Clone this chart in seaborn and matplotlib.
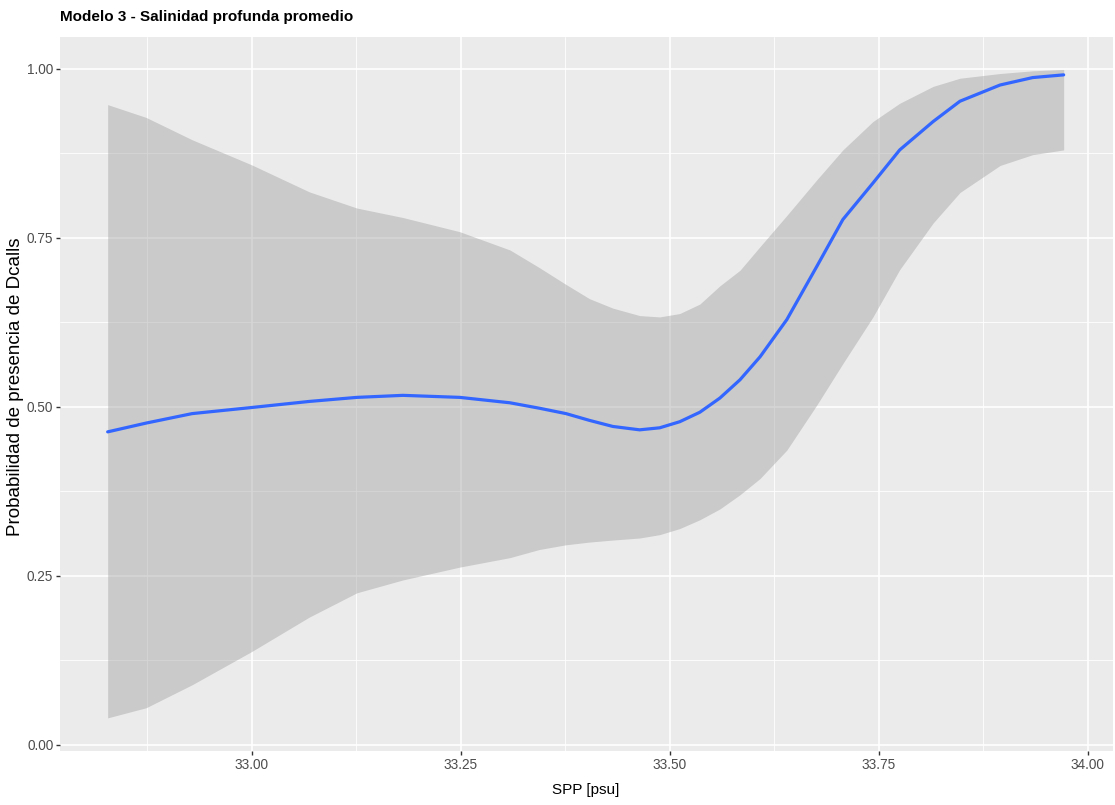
import matplotlib
matplotlib.use("Agg")
import matplotlib.pyplot as plt
import seaborn as sns
import pandas as pd
from matplotlib.ticker import FixedLocator

# Fitted curve (SPP vs probability) with its band
spp = [32.828, 32.874, 32.929, 33.000, 33.069, 33.126, 33.181, 33.249, 33.309, 33.344,
       33.376, 33.404, 33.432, 33.464, 33.488, 33.512, 33.536, 33.560, 33.584, 33.608,
       33.640, 33.676, 33.707, 33.743, 33.775, 33.815, 33.847, 33.895, 33.934, 33.971]
prob = [0.463, 0.476, 0.490, 0.499, 0.508, 0.514, 0.517, 0.514, 0.506, 0.498,
        0.490, 0.480, 0.471, 0.466, 0.469, 0.478, 0.492, 0.513, 0.540, 0.574,
        0.629, 0.708, 0.777, 0.831, 0.880, 0.922, 0.952, 0.976, 0.987, 0.991]
upper = [0.947, 0.928, 0.895, 0.858, 0.818, 0.794, 0.780, 0.759, 0.732, 0.706,
         0.681, 0.660, 0.646, 0.635, 0.633, 0.638, 0.652, 0.679, 0.702, 0.737,
         0.783, 0.836, 0.880, 0.922, 0.949, 0.974, 0.986, 0.993, 0.997, 0.999]
lower = [0.040, 0.055, 0.089, 0.138, 0.189, 0.225, 0.244, 0.263, 0.277, 0.289,
         0.296, 0.300, 0.303, 0.306, 0.311, 0.320, 0.333, 0.349, 0.370, 0.394,
         0.436, 0.503, 0.564, 0.633, 0.703, 0.772, 0.817, 0.857, 0.873, 0.880]

x_ticks = [33.00, 33.25, 33.50, 33.75, 34.00]
x_minor = [32.875, 33.125, 33.375, 33.625, 33.875]
y_ticks = [0.00, 0.25, 0.50, 0.75, 1.00]
y_minor = [0.125, 0.375, 0.625, 0.875]

df = pd.DataFrame({"spp": spp, "prob": prob, "upper": upper, "lower": lower})

sns.set_theme(style="darkgrid", rc={
    "axes.facecolor": "#EBEBEB",
    "grid.color": "white",
    "axes.edgecolor": "#EBEBEB",
})
plt.rcParams['font.family'] = ['Liberation Sans', 'DejaVu Sans']

fig = plt.figure(figsize=(11.15, 8.05), dpi=100)
ax = fig.add_axes([60 / 1115, 1 - 751 / 805, 1053 / 1115, 714 / 805])

ax.fill_between(df["spp"], df["lower"], df["upper"], color="#999999", alpha=0.4,
                linewidth=0, zorder=2)
sns.lineplot(data=df, x="spp", y="prob", ax=ax, color="#3366FF", linewidth=2.3,
             zorder=3)

ax.set_xlim(32.771, 34.030)
ax.set_ylim(-0.009, 1.047)

ax.xaxis.set_major_locator(FixedLocator(x_ticks))
ax.xaxis.set_minor_locator(FixedLocator(x_minor))
ax.yaxis.set_major_locator(FixedLocator(y_ticks))
ax.yaxis.set_minor_locator(FixedLocator(y_minor))
ax.set_xticklabels([f"{v:.2f}" for v in x_ticks])
ax.set_yticklabels([f"{v:.2f}" for v in y_ticks])

ax.grid(which="major", color="white", linewidth=1.2)
ax.grid(which="minor", color="white", linewidth=0.6)
ax.set_axisbelow(True)
for s in ax.spines.values():
    s.set_visible(False)

ax.tick_params(which="major", length=3, width=1, color="#333333",
               labelsize=9.8, labelcolor="#4D4D4D", pad=1.8,
               bottom=True, left=True)
ax.tick_params(which="minor", length=0)

ax.set_xlabel("")
ax.set_ylabel("")

fig.text(60 / 1115, 1 - 17 / 805, "Modelo 3 - Salinidad profunda promedio",
         ha="left", va="center", fontsize=11, fontweight="bold", color="black")
fig.text(586 / 1115, 1 - 790 / 805, "SPP [psu]", ha="center", va="center",
         fontsize=11, color="black")
fig.text(16 / 1115, 1 - 387 / 805, "Probabilidad de presencia de Dcalls",
         ha="center", va="center", rotation=90, fontsize=13.5, color="black")

fig.savefig("out.png", dpi=100)
plt.close(fig)
